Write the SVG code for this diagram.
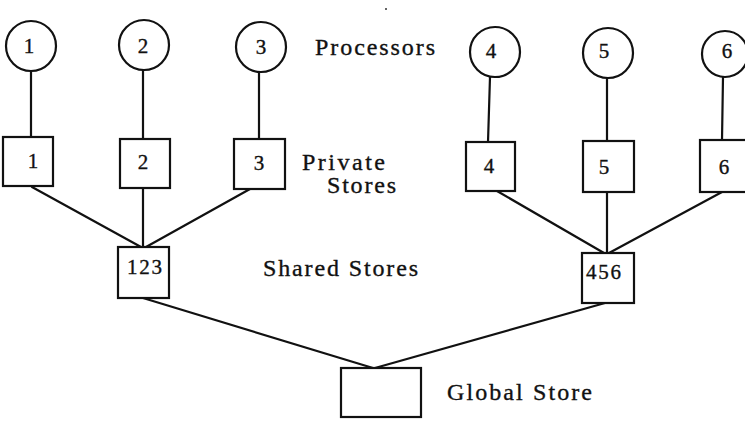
<svg xmlns="http://www.w3.org/2000/svg" width="745" height="428" viewBox="0 0 745 428">
  <style>
    .shape { fill: #fff; stroke: #111; stroke-width: 2.2; }
    .wire { stroke: #111; stroke-width: 2.2; fill: none; stroke-linecap: round; }
    text { font-family: "Liberation Serif", "Times New Roman", serif; font-size: 24px; fill: #111; stroke: #111; stroke-width: 0.35; }
    .num { text-anchor: middle; font-size: 21px; }
  </style>
  <rect width="745" height="428" fill="#fff"/>

  <!-- connectors -->
  <g id="connectors" class="wire">
    <line x1="31" y1="71" x2="31" y2="137"/>
    <line x1="143" y1="70" x2="143" y2="139"/>
    <line x1="259" y1="72" x2="259" y2="139"/>
    <line x1="490" y1="77" x2="488" y2="142"/>
    <line x1="607" y1="78" x2="607" y2="141"/>
    <line x1="723" y1="77" x2="722" y2="140"/>
    <line x1="32" y1="187" x2="141" y2="247"/>
    <line x1="143" y1="188" x2="143" y2="247"/>
    <line x1="250" y1="189" x2="146" y2="247"/>
    <line x1="497" y1="191" x2="604" y2="253"/>
    <line x1="607" y1="192" x2="607" y2="253"/>
    <line x1="722" y1="192" x2="609" y2="253"/>
    <line x1="143" y1="298" x2="373" y2="368"/>
    <line x1="605" y1="303" x2="375" y2="368"/>
  </g>

  <!-- processors -->
  <g id="p1"><circle class="shape" cx="31" cy="46" r="25"/><text class="num" x="29" y="53">1</text></g>
  <g id="p2"><circle class="shape" cx="144" cy="45" r="25"/><text class="num" x="143" y="53">2</text></g>
  <g id="p3"><circle class="shape" cx="261" cy="47" r="25"/><text class="num" x="261" y="54">3</text></g>
  <g id="p4"><circle class="shape" cx="495" cy="52" r="25"/><text class="num" x="491" y="58">4</text></g>
  <g id="p5"><circle class="shape" cx="608" cy="53" r="25"/><text class="num" x="604" y="58">5</text></g>
  <g id="p6"><circle class="shape" cx="725" cy="54" r="23"/><text class="num" x="727" y="58">6</text></g>

  <!-- private stores -->
  <g id="m1"><rect class="shape" x="3" y="137" width="50" height="49"/><text class="num" x="33" y="168">1</text></g>
  <g id="m2"><rect class="shape" x="120" y="139" width="50" height="49"/><text class="num" x="143" y="169">2</text></g>
  <g id="m3"><rect class="shape" x="234" y="139" width="51" height="50"/><text class="num" x="259" y="170">3</text></g>
  <g id="m4"><rect class="shape" x="466" y="142" width="49" height="49"/><text class="num" x="489" y="173">4</text></g>
  <g id="m5"><rect class="shape" x="583" y="141" width="51" height="51"/><text class="num" x="604" y="174">5</text></g>
  <g id="m6"><rect class="shape" x="700" y="140" width="50" height="52"/><text class="num" x="724" y="174">6</text></g>

  <!-- shared stores -->
  <g id="s123"><rect class="shape" x="118" y="247" width="51" height="51"/><text class="num" x="144.5" y="274" textLength="35" lengthAdjust="spacing">123</text></g>
  <g id="s456"><rect class="shape" x="582" y="253" width="52" height="50"/><text class="num" x="603.5" y="279" textLength="35" lengthAdjust="spacing">456</text></g>

  <!-- global store -->
  <g id="global"><rect class="shape" x="341" y="368" width="80" height="49"/></g>

  <!-- level labels -->
  <g id="labels">
    <text x="315" y="55" textLength="120" lengthAdjust="spacing">Processors</text>
    <text x="302" y="170" textLength="83" lengthAdjust="spacing">Private</text>
    <text x="327" y="193" textLength="69" lengthAdjust="spacing">Stores</text>
    <text x="263" y="276" textLength="155" lengthAdjust="spacing">Shared Stores</text>
    <text x="447" y="400" textLength="145" lengthAdjust="spacing">Global Store</text>
  </g>

  <circle cx="386" cy="9" r="1" fill="#333"/>
</svg>
